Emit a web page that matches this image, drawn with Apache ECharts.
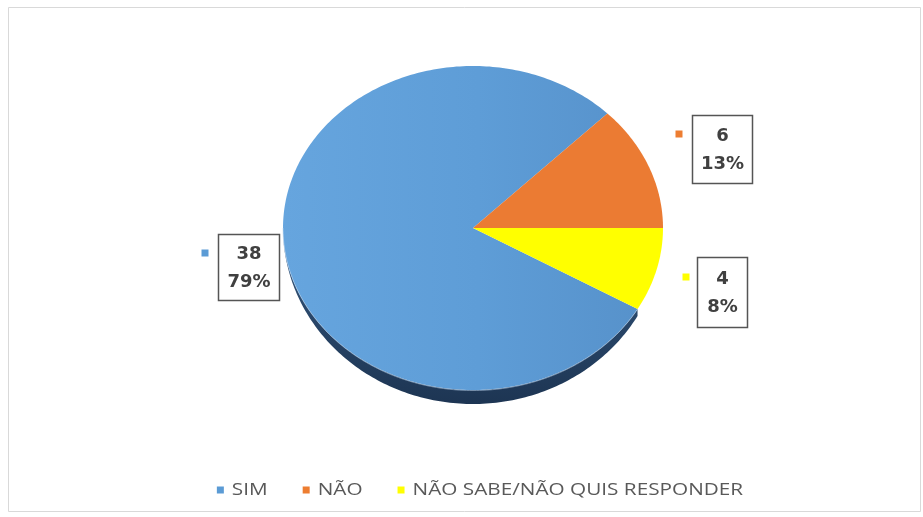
<!DOCTYPE html>
<html>
<head>
<meta charset="utf-8">
<script src="https://cdn.jsdelivr.net/npm/echarts@6/dist/echarts.min.js"></script>
<style>
  html, body { margin: 0; padding: 0; background: #ffffff; }
  #chart { width: 923px; height: 517px; }
</style>
</head>
<body>
<div id="chart"></div>
<script>
// Survey answers
const categories = ['SIM', 'NÃO', 'NÃO SABE/NÃO QUIS RESPONDER'];
const counts = [38, 6, 4];
const sliceColors = ['#5B9BD5', '#ED7D31', '#FFFF00'];

// Tilted pie geometry (top face ellipse + visible rim depth)
const PIE = { cx: 473, cy: 228, rx: 190, ry: 162, depth: 14, start: 330 };

// Callout boxes: legend key square + framed value/percent
const CALLOUTS = [
  { key: [205, 253], box: [218, 234, 61, 66] },
  { key: [679, 134], box: [692, 115, 60, 68] },
  { key: [686, 277], box: [697, 257, 50, 70] }
];

// Bottom legend layout (wide, slightly stretched lettering)
const LEGEND = { centerX: 480, y: 490, key: 7, keyGap: 8, itemGap: 35, fontSize: 17, stretch: 1.22 };

const faceFills = [
  { type: 'linear', x: 0, y: 0, x2: 1, y2: 0,
    colorStops: [{ offset: 0, color: '#66a5de' }, { offset: 0.55, color: '#5e9dd7' }, { offset: 1, color: '#5792cb' }] },
  '#EB7B33',
  '#FFFF00'
];
const rimFills = [
  { type: 'linear', x: 0, y: 0, x2: 0, y2: 1,
    colorStops: [{ offset: 0, color: '#35587f' }, { offset: 1, color: '#1d3553' }] },
  '#a8521c',
  null
];

const total = counts.reduce((a, b) => a + b, 0);

function pt(theta, ry) {
  const r = theta * Math.PI / 180;
  return [PIE.cx + PIE.rx * Math.cos(r), PIE.cy - ry * Math.sin(r)];
}
function arc(a, b, ry) {
  const pts = [];
  const n = Math.max(2, Math.ceil(Math.abs(b - a)));
  for (let k = 0; k <= n; k++) pts.push(pt(a + (b - a) * k / n, ry));
  return pts;
}

function makeRender(i) {
  return function (params, api) {
    const value = api.value(0);
    let before = 0;
    for (let k = 0; k < i; k++) before += counts[k];
    const a0 = PIE.start - before / total * 360;   // clockwise => decreasing angle
    const a1 = a0 - value / total * 360;
    const children = [];

    // visible rim on the lower half of the ellipse
    if (rimFills[i]) {
      [[-180, 0], [180, 360], [540, 720]].forEach(([lo, hi]) => {
        const a = Math.max(a1, lo), b = Math.min(a0, hi);
        if (a < b) {
          const outer = arc(a, b, PIE.ry + PIE.depth);
          const inner = arc(b, a, PIE.ry);
          children.push({ type: 'polygon', shape: { points: outer.concat(inner) },
            style: { fill: rimFills[i] }, z2: 1 });
          children.push({ type: 'polyline', shape: { points: arc(a, b, PIE.ry + 0.5) },
            style: { stroke: 'rgba(190,215,240,0.55)', lineWidth: 1, fill: null }, z2: 3 });
        }
      });
    }

    // top face
    const face = [[PIE.cx, PIE.cy]].concat(arc(a0, a1, PIE.ry));
    children.push({ type: 'polygon', shape: { points: face },
      style: { fill: faceFills[i] }, z2: 2 });

    // callout
    const c = CALLOUTS[i];
    const pct = Math.round(value / total * 100);
    children.push({ type: 'rect', shape: { x: c.key[0] - 3.5, y: c.key[1] - 3.5, width: 7, height: 7 },
      style: { fill: sliceColors[i] }, z2: 5 });
    children.push({ type: 'rect', shape: { x: c.box[0] + 0.5, y: c.box[1] + 0.5, width: c.box[2], height: c.box[3] },
      style: { fill: '#ffffff', stroke: '#555555', lineWidth: 1.5 }, z2: 5 });
    children.push({ type: 'text', z2: 6,
      style: { text: value + '\n' + pct + '%', x: c.box[0] + c.box[2] / 2 + 0.5, y: c.box[1] + c.box[3] / 2 + 1,
        align: 'center', verticalAlign: 'middle', lineHeight: 28,
        fill: '#404040', fontSize: 18, fontWeight: 'bold', fontFamily: 'DejaVu Sans' } });

    return { type: 'group', children: children };
  };
}

// legend entries: colour key + stretched label, laid out centred
function legendGraphics() {
  const ctx = document.createElement('canvas').getContext('2d');
  ctx.font = LEGEND.fontSize + 'px "Open Sans"';
  const widths = categories.map(t => ctx.measureText(t).width * LEGEND.stretch);
  const full = widths.reduce((s, w) => s + LEGEND.key + LEGEND.keyGap + w, 0) + LEGEND.itemGap * (categories.length - 1);
  let x = LEGEND.centerX - full / 2;
  const els = [];
  categories.forEach((name, i) => {
    els.push({ type: 'rect', silent: true,
      shape: { x: x, y: LEGEND.y - LEGEND.key / 2, width: LEGEND.key, height: LEGEND.key },
      style: { fill: sliceColors[i] } });
    x += LEGEND.key + LEGEND.keyGap;
    els.push({ type: 'text', silent: true, x: x, y: LEGEND.y, scaleX: LEGEND.stretch,
      style: { text: name, fill: '#595959', fontSize: LEGEND.fontSize, fontFamily: 'Open Sans',
        align: 'left', verticalAlign: 'middle' } });
    x += widths[i] + LEGEND.itemGap;
  });
  return els;
}

const chart = echarts.init(document.getElementById('chart'), null, { renderer: 'canvas' });
chart.setOption({
  backgroundColor: '#ffffff',
  animation: false,
  graphic: [{
    type: 'rect', silent: true,
    shape: { x: 8.5, y: 7.5, width: 912, height: 504 },
    style: { fill: null, stroke: '#d9d9d9', lineWidth: 1 }
  }].concat(legendGraphics()),
  series: categories.map((name, i) => ({
    type: 'custom',
    name: name,
    coordinateSystem: 'none',
    silent: true,
    itemStyle: { color: sliceColors[i] },
    data: [[counts[i]]],
    renderItem: makeRender(i)
  }))
});
</script>
</body>
</html>
